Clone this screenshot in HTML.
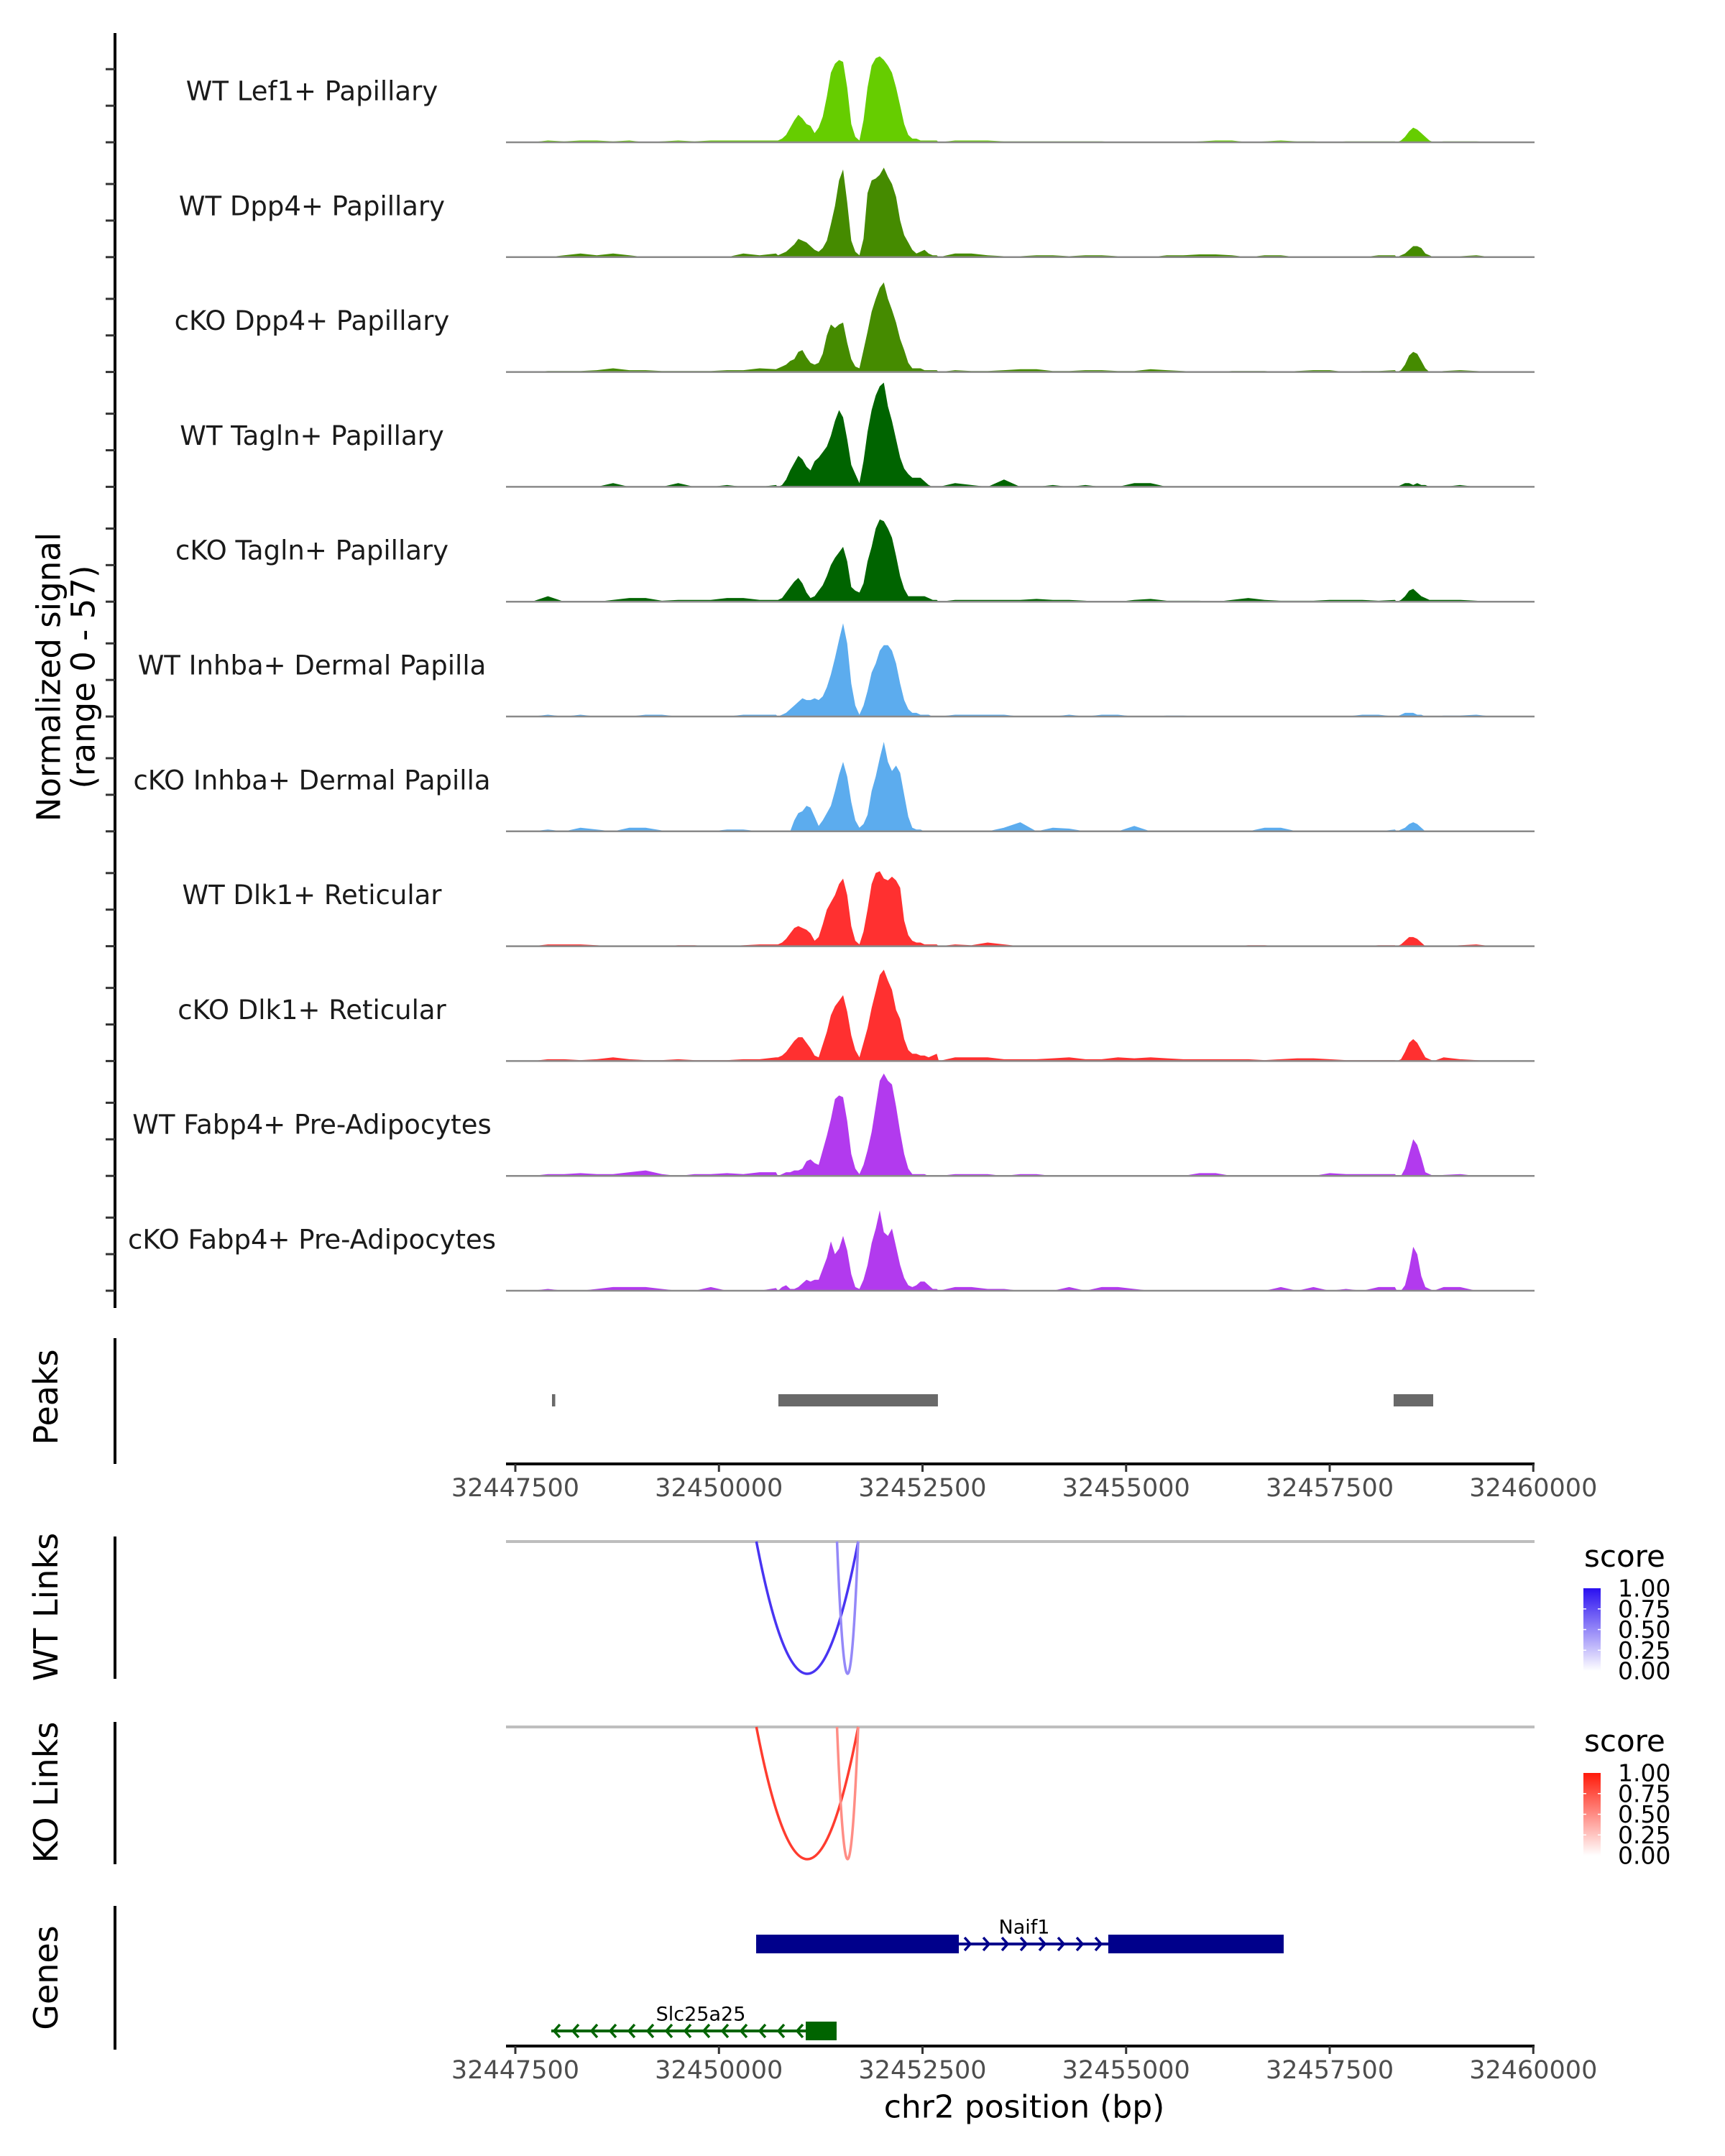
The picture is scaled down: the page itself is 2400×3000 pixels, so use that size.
<!DOCTYPE html>
<html><head><meta charset="utf-8"><style>
html,body{margin:0;padding:0;background:#fff;}
svg{display:block;font-family:"DejaVu Sans","Liberation Sans",sans-serif;}
</style></head><body>
<svg id="chart" width="2400" height="3000" viewBox="0 0 2400 3000" xmlns="http://www.w3.org/2000/svg">
<rect x="0" y="0" width="2400" height="3000" fill="#fff"/>
<g id="tracks"></g>
<g id="yaxis"></g>
<text transform="translate(68,942) rotate(-90)" text-anchor="middle" dominant-baseline="central" font-size="45" fill="#000">Normalized signal</text>
<text transform="translate(116,942) rotate(-90)" text-anchor="middle" dominant-baseline="central" font-size="45" fill="#000">(range 0 - 57)</text>
<g id="peaks"></g>
<text transform="translate(64,1944) rotate(-90)" text-anchor="middle" dominant-baseline="central" font-size="46" fill="#000">Peaks</text>
<line x1="160" y1="1862" x2="160" y2="2037" stroke="#000" stroke-width="4"/>
<g id="axis1"></g>
<g id="links"></g>
<text transform="translate(64,2236) rotate(-90)" text-anchor="middle" dominant-baseline="central" font-size="46" fill="#000">WT Links</text>
<line x1="160" y1="2138" x2="160" y2="2336" stroke="#000" stroke-width="4"/>
<text transform="translate(64,2494) rotate(-90)" text-anchor="middle" dominant-baseline="central" font-size="46" fill="#000">KO Links</text>
<line x1="160" y1="2396" x2="160" y2="2594" stroke="#000" stroke-width="4"/>
<defs>
<linearGradient id="gBlue" x1="0" y1="1" x2="0" y2="0"><stop offset="0" stop-color="#ffffff"/><stop offset="1" stop-color="#2a10f0"/></linearGradient>
<linearGradient id="gRed" x1="0" y1="1" x2="0" y2="0"><stop offset="0" stop-color="#ffffff"/><stop offset="1" stop-color="#ff1a0a"/></linearGradient>
</defs>
<g id="legends"></g>
<g id="genes"></g>
<text transform="translate(64,2752) rotate(-90)" text-anchor="middle" dominant-baseline="central" font-size="46" fill="#000">Genes</text>
<line x1="160" y1="2652" x2="160" y2="2852" stroke="#000" stroke-width="4"/>
<g id="axis2"></g>
<text x="1425" y="2932" text-anchor="middle" dominant-baseline="central" font-size="44" fill="#000">chr2 position (bp)</text>
</svg>
<script>
const trackNames = ["WT Lef1+ Papillary","WT Dpp4+ Papillary","cKO Dpp4+ Papillary","WT Tagln+ Papillary","cKO Tagln+ Papillary","WT Inhba+ Dermal Papilla","cKO Inhba+ Dermal Papilla","WT Dlk1+ Reticular","cKO Dlk1+ Reticular","WT Fabp4+ Pre-Adipocytes","cKO Fabp4+ Pre-Adipocytes"];
const trackColors = ["#66CD00","#458B00","#458B00","#006400","#006400","#5CACEE","#5CACEE","#FF3030","#FF3030","#B23AEE","#B23AEE"];
// main region: 50bp bins starting at 32450700
const mainStart = 32450700, mainBin = 50;
const main1 = [1,2,4,8,12,15,13,10,9,5,8,14,25,38,43,45,44,30,10,3,1,12,30,42,46,47,45,42,38,30,20,10,4,2,2,1,1,1,1,1];
const main2 = [1,2,3,5,7,10,9,8,6,4,3,5,9,18,28,42,48,30,9,3,1,10,35,42,43,45,49,44,40,33,20,12,8,4,2,3,4,2,1,1];
const main3 = [2,3,4,6,7,11,12,8,5,4,5,10,20,26,24,26,27,16,7,3,2,12,22,33,40,46,49,40,34,27,18,12,5,2,2,2,1,1,1,1];
const main4 = [0,1,4,9,13,17,15,11,9,14,16,19,22,28,36,42,38,26,12,7,2,14,30,42,50,55,57,44,36,26,16,10,7,5,5,5,3,1,0,0];
const main5 = [1,2,5,8,11,13,10,5,2,3,6,9,14,20,24,27,30,22,8,6,5,10,22,30,40,45,44,40,35,25,14,7,3,3,3,3,3,2,1,1];
const main6 = [0,1,2,4,6,8,10,9,9,10,9,11,16,23,32,42,51,40,18,6,1,6,14,24,29,36,39,39,36,29,18,9,4,2,2,1,1,1,0,0];
const main7 = [0,0,0,0,6,10,11,14,13,8,3,6,10,14,22,31,38,30,16,6,2,4,9,22,30,40,49,38,33,36,32,20,8,2,1,1,0,0,0,0];
const main8 = [1,2,4,7,10,11,10,9,7,3,5,12,20,24,28,34,37,28,11,3,1,8,20,34,40,41,37,36,38,36,32,14,6,3,2,2,1,1,1,1];
const main9 = [2,3,5,8,11,13,13,10,7,3,2,9,16,25,30,33,36,27,14,6,2,10,18,29,38,47,50,44,39,28,23,12,6,4,4,3,3,2,3,4];
const main10 = [0,1,2,2,3,3,4,8,9,7,6,14,22,31,42,44,43,30,12,4,1,6,14,24,38,52,56,52,50,38,24,12,4,1,1,1,1,0,0,0];
const main11 = [0,2,3,1,1,2,4,6,5,6,6,12,18,27,20,23,30,22,9,2,1,6,14,26,34,44,32,30,34,24,14,7,3,2,3,5,5,3,1,1];
// side peak: 50bp bins starting at 32458300
const sideStart = 32458300;
const side1 = [0,1,3,6,8,7,5,3,1,0];
const side2 = [0,1,2,4,6,6,5,2,1,0];
const side3 = [0,1,4,9,11,10,6,2,0,0];
const side4 = [0,1,2,2,1,2,1,1,0,0];
const side5 = [0,1,3,6,7,5,3,2,1,1];
const side6 = [0,1,2,2,2,1,1,0,0,0];
const side7 = [0,1,2,4,5,4,2,0,0,0];
const side8 = [0,1,3,5,5,4,2,0,0,0];
const side9 = [0,1,5,10,12,10,6,2,1,0];
const side10 = [0,0,4,12,20,17,10,2,1,0];
const side11 = [0,0,3,12,24,20,8,2,1,0];
// background: 200bp bins starting at 32447400
const bgStart = 32447400, bgBin = 200;
const bg1 = [0,0,1,0.5,1,1,0.5,1,0,0.5, 1,0.5,1,1,1,1,1,0,0,0, 0,0,0,0,0,0,0,1,1,1, 0.5,0.5,0.5,0.5,0.5,0.5,0.5,0,0,0, 0,0,0.5,1,1,0,0.5,1,0.5,0.5, 0,0.5,0.5,0.5,0.5,0,0,0.5,0.5,0.5, 0,0,0];
const bg2 = [0,0,0,1,2,1,2,1,0,0, 0.5,0.5,0.5,0,2,1,2,0,0,0, 0,0,0,0,0,0,0,2,2,1, 0.5,0.5,1,1,0.5,1,1,0.5,0,0, 1,1,1.5,1.5,1,0,1,1,0,0, 0,0,0,1,1,0,0,0.5,0.5,1, 0,0,0];
const bg3 = [0,0,0.5,0.5,0.5,1,2,1,1,0.5, 0.5,0.5,0.5,1,1,2,1.5,0,0,0, 0,0,0,0,0,0,0,1,0.5,0.5, 1,1.5,1.5,0.5,0.5,1,1,0.5,0.5,1.5, 1,0.5,0,0,0.5,0.5,0.5,0,0.5,1, 1,0,0.5,0.5,1,0,0,0.5,1,0.5, 0,0,0];
const bg4 = [0,0,0,0,0,0,2,0,0,0, 2,0,0,1,0,0,1,0,0,0, 0,0,0,0,0,0,0,2,1,0, 4,0,0,1,0,1,0,0,2,2, 0,0,0,0,0,0,0,0,0,0, 0,0,0,0,0,0,0,0,1,0, 0,0,0];
const bg5 = [0,0,3,0,0,0,1,2,2,0.5, 1,1,1,2,2,1,1,0,0,0, 0,0,0,0,0,0,0,1,1,1, 1,1,1.5,1,1,0.5,0,0,1,1.5, 0.5,0.5,0.5,0,1,2,1,0.5,0.5,0.5, 1,1,1,0.5,1,0,0,1,1,0.5, 0,0,0];
const bg6 = [0,0,1,0,1,0,0,0,1,1, 0,0,0,0,1,1,1,0,0,0, 0,0,0,0,0,0,0,1,1,1, 1,0,0,0,1,0,1,1,0,0, 0.5,0.5,0,0,0,0,0,0,0,0, 0,0,1,1,0,0,0,0.5,0.5,1, 0,0,0];
const bg7 = [0,0,1,0,2,1,0,2,2,0.5, 0,0,0,1,1,0,0,0,0,0, 0,0,0,0,0,0,0,0,0,0, 2,5,0,2,1.5,0,0,0,3,0, 0,0,0,0,0,0,2,2,0,0, 0,0,0,0,1,0,0,0,0,0, 0,0,0];
const bg8 = [0,0,1,1,1,0.5,0,0,0,0, 0.5,0.5,0,0,0.5,1,1,0,0,0, 0,0,0,0,0,0,0,1,0.5,2, 1,0,0,0,0,0,0,0,0,0, 0,0,0,0,0,0.5,0.5,0,0,0, 0,0,0,0.5,0.5,0,0,0,0.5,1, 0,0,0];
const bg9 = [0,0,1,1,0.5,1,2,1,0.5,0.5, 1,0.5,0.5,0.5,1,1,2,0,0,0, 0,0,0,0,0,0,0,2,2,2, 1,1,1,1.5,2,1,1,2,1.5,2, 1.5,1,1,1,1,1,0.5,1,1.5,1.5, 1,0.5,0.5,0.5,0.5,0,0,2,1,0.5, 0,0,0];
const bg10 = [0,0,1,1,1.5,1,1,2,3,1, 0,1,1,1.5,1,2,2,0,0,0, 0,0,0,0,0,0,0,1,1,1, 0,1,1,0,0,0,0,0,0,0, 0,0,1.5,1.5,0,0,0,0,0,0, 1.5,1,1,1,1,0,0,0.5,1,0, 0,0,0];
const bg11 = [0,0,1,0,0,1,2,2,2,1, 0,0,2,0,0,0,1.5,0,0,0, 0,0,0,0,0,0,0,2,2,1, 1,0,0,0,2,0,2,2,1,0, 0,0,0,0,0,0,0,2,0,2, 0,1,0,2,2,0,0,2,2,0, 0,0,0];
const mainData = [main1,main2,main3,main4,main5,main6,main7,main8,main9,main10,main11];
const sideData = [side1,side2,side3,side4,side5,side6,side7,side8,side9,side10,side11];
const bgData = [bg1,bg2,bg3,bg4,bg5,bg6,bg7,bg8,bg9,bg10,bg11];
const peakStarts = [32447950, 32450730, 32458285];
const peakEnds = [32447990, 32452689, 32458771];
const xTicks = [32447500,32450000,32452500,32455000,32457500,32460000];
const linkStarts = [32450460, 32451450];
const linkEnds = [32451710, 32451710];
const wtScores = [0.85, 0.5];
const koScores = [0.85, 0.5];
const legendTicks = ["1.00","0.75","0.50","0.25","0.00"];
const geneNames = ["Naif1","Slc25a25"];
const geneStarts = [32450457, 32447941];
const geneEnds = [32456935, 32451445];
const exonStarts = [[32450457, 32454781],[32451066]];
const exonEnds = [[32452946, 32456935],[32451445]];
const geneStrand = [1, -1];

const NS = "http://www.w3.org/2000/svg";
const X0 = 32447500, PX0 = 717, BPPX = 8.826;
const AX1 = 704, AX2 = 2135;
function xs(bp){ return PX0 + (bp - X0) / BPPX; }
const base0 = 198, trackStep = 159.8, unitPx = 145/57;
function ys(i, v){ return base0 + trackStep*i - v*unitPx; }
function mk(tag, attrs, parent){ const e = document.createElementNS(NS, tag); for (const k in attrs) e.setAttribute(k, attrs[k]); parent.appendChild(e); return e; }

const gT = document.getElementById('tracks');
for (let i=0;i<trackNames.length;i++){
  const pts = [];
  bgData[i].forEach((v,k)=>{ const b = bgStart + bgBin*k + bgBin/2;
    if ((b>mainStart && b<mainStart+mainBin*40) || (b>sideStart && b<sideStart+500)) return;
    pts.push([b, v]); });
  mainData[i].forEach((v,j)=>pts.push([mainStart + mainBin*j + mainBin/2, v]));
  sideData[i].forEach((v,j)=>pts.push([sideStart + mainBin*j + mainBin/2, v]));
  pts.sort((a,b)=>a[0]-b[0]);
  const bl = ys(i,0);
  let d = "M" + xs(pts[0][0]).toFixed(1) + "," + bl;
  pts.forEach(p=>{ d += "L" + xs(p[0]).toFixed(1) + "," + ys(i,p[1]).toFixed(1); });
  d += "L" + xs(pts[pts.length-1][0]).toFixed(1) + "," + bl + "Z";
  const area = mk('path', {d:d, fill:trackColors[i]}, gT);
  
  
  const line = mk('line', {x1:AX1, x2:AX2, y1:bl, y2:bl, stroke:'#8a8a8a', 'stroke-width':2.5}, gT);
  
  
  const lab = mk('text', {x:434, y:bl-71, 'text-anchor':'middle', 'dominant-baseline':'central', 'font-size':37, fill:'#1a1a1a'}, gT);
  lab.textContent = trackNames[i];
  
  
}
const gY = document.getElementById('yaxis');
const ya = mk('line', {x1:160, x2:160, y1:46, y2:1820, stroke:'#000', 'stroke-width':4}, gY);


for (let i=0;i<trackNames.length;i++){
  [0,20,40].forEach(v=>{ const y = ys(i,v);
    const t = mk('line', {x1:147, x2:160, y1:y, y2:y, stroke:'#333', 'stroke-width':3}, gY);
    
     });
}
const gP = document.getElementById('peaks');
peakStarts.forEach((s,i)=>{ const x1 = xs(s), x2 = Math.max(xs(peakEnds[i]), x1+4);
  const r = mk('rect', {x:x1, y:1940, width:x2-x1, height:17, fill:'#696969'}, gP);
  
   });
function axis(g, y, ly){
  const l = mk('line', {x1:AX1, x2:AX2, y1:y, y2:y, stroke:'#000', 'stroke-width':4}, g);
  
  
  xTicks.forEach(t=>{ const x = xs(t);
    const tk = mk('line', {x1:x, x2:x, y1:y, y2:y+11, stroke:'#333', 'stroke-width':3}, g);
    
    
    const tx = mk('text', {x:x, y:ly, 'text-anchor':'middle', 'dominant-baseline':'central', 'font-size':35, fill:'#4d4d4d'}, g);
    tx.textContent = String(t);
    
     });
}
axis(document.getElementById('axis1'), 2037, 2071);
axis(document.getElementById('axis2'), 2847, 2881);
function lerp(c, s){ return 'rgb(' + c.map(v=>Math.round(255 + (v-255)*s)).join(',') + ')'; }
const gL = document.getElementById('links');
function linkPanel(base, scores, col, nm){
  const bl = mk('line', {x1:AX1, x2:AX2, y1:base, y2:base, stroke:'#bebebe', 'stroke-width':4}, gL);
  
  
  linkStarts.forEach((s,i)=>{ const x1 = xs(s), x2 = xs(linkEnds[i]), depth = 184;
    const d = 'M'+x1+','+base+' Q'+((x1+x2)/2)+','+(base+2*depth)+' '+x2+','+base;
    const p = mk('path', {d:d, fill:'none', stroke:lerp(col, scores[i]), 'stroke-width':3.5}, gL);
    
     });
}
linkPanel(2145, wtScores, [40,16,240], 'wt-link');
linkPanel(2403, koScores, [255,26,10], 'ko-link');
const gLe = document.getElementById('legends');
function legend(ty, by, grad, nm){
  const t = mk('text', {x:2204, y:ty, 'font-size':42, fill:'#000'}, gLe);
  t.textContent = 'score';
  
  
  const r = mk('rect', {x:2203, y:by, width:24, height:115, fill:'url(#'+grad+')'}, gLe);
  
  
  legendTicks.forEach((lab,i)=>{ const y = by + i*115/4;
    if (i>0 && i<4){ const tk = mk('line', {x1:2203, x2:2207, y1:y, y2:y, stroke:'#fff', 'stroke-width':1.5}, gLe);
       
      const tk2 = mk('line', {x1:2223, x2:2227, y1:y, y2:y, stroke:'#fff', 'stroke-width':1.5}, gLe);
        }
    const tx = mk('text', {x:2251, y:y, 'dominant-baseline':'central', 'font-size':33, fill:'#000'}, gLe);
    tx.textContent = lab;
    
     });
}
legend(2180, 2210, 'gBlue', 'wt-legend');
legend(2437, 2467, 'gRed', 'ko-legend');
const gG = document.getElementById('genes');
const geneY = [2705, 2826], geneCol = ['#00008B', '#006400'], geneH = [26, 26];
geneNames.forEach((nm,i)=>{
  const y = geneY[i], x1 = xs(geneStarts[i]), x2 = xs(geneEnds[i]);
  const ln = mk('line', {x1:x1, x2:x2, y1:y, y2:y, stroke:geneCol[i], 'stroke-width':4}, gG);
  
  
  for (let x = x1 + 8; x < x2 - 4; x += 26){
    const c = geneStrand[i] > 0 ? 'M'+(x-4)+','+(y-9)+' L'+(x+4)+','+y+' L'+(x-4)+','+(y+9) : 'M'+(x+4)+','+(y-9)+' L'+(x-4)+','+y+' L'+(x+4)+','+(y+9);
    const ch = mk('path', {d:c, fill:'none', stroke:geneCol[i], 'stroke-width':3.5}, gG);
    
    
  }
  exonStarts[i].forEach((s,k)=>{ const ex1 = xs(s), ex2 = xs(exonEnds[i][k]);
    const r = mk('rect', {x:ex1, y:y-geneH[i]/2, width:ex2-ex1, height:geneH[i], fill:geneCol[i]}, gG);
    
     });
  const lx = i===0 ? 1425 : 975, ly = i===0 ? 2682 : 2803;
  const t = mk('text', {x:lx, y:ly, 'text-anchor':'middle', 'dominant-baseline':'central', 'font-size':27, fill:'#000'}, gG);
  t.textContent = nm;
  
  
});
</script>
</body></html>
